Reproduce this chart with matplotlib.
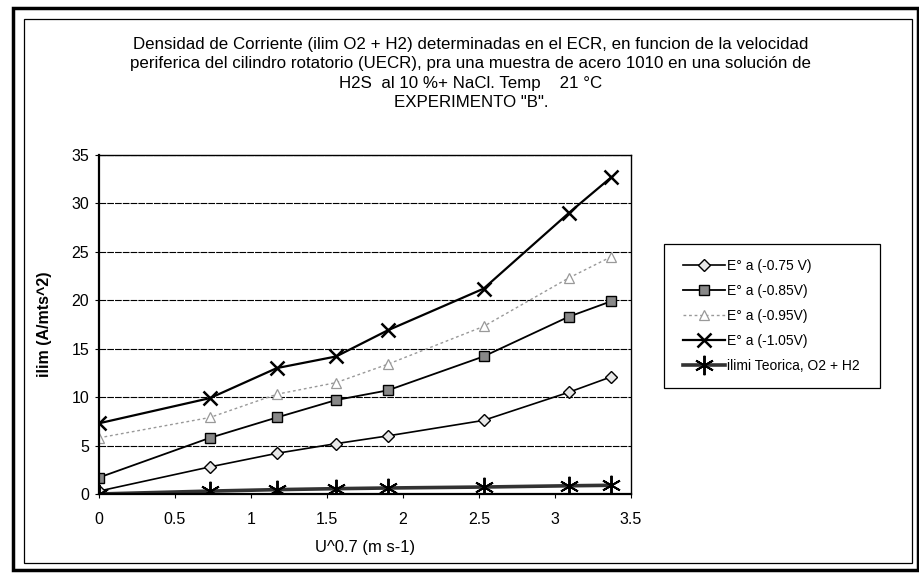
import matplotlib.pyplot as plt
from matplotlib.patches import Rectangle

plt.rcParams['font.family'] = ['Liberation Sans', 'DejaVu Sans']

# data
u07 = [0, 0.73, 1.17, 1.56, 1.9, 2.53, 3.09, 3.37]
e075 = [0.3, 2.8, 4.2, 5.2, 6.0, 7.6, 10.5, 12.1]
e085 = [1.7, 5.8, 7.9, 9.7, 10.7, 14.2, 18.3, 19.9]
e095 = [5.8, 7.9, 10.3, 11.5, 13.4, 17.3, 22.3, 24.5]
e105 = [7.3, 9.9, 13.0, 14.2, 16.9, 21.2, 29.0, 32.7]
teorica = [0.0, 0.3, 0.45, 0.55, 0.62, 0.72, 0.85, 0.9]

labels = ["E° a (-0.75 V)", "E° a (-0.85V)", "E° a (-0.95V)", "E° a (-1.05V)", "ilimi Teorica, O2 + H2"]
x_ticks = [0, 0.5, 1, 1.5, 2, 2.5, 3, 3.5]
y_ticks = [0, 5, 10, 15, 20, 25, 30, 35]

title = ("Densidad de Corriente (ilim O2 + H2) determinadas en el ECR, en funcion de la velocidad\n"
         "periferica del cilindro rotatorio (UECR), pra una muestra de acero 1010 en una solución de\n"
         "H2S  al 10 %+ NaCl. Temp    21 °C\n"
         "EXPERIMENTO \"B\".")

W, H = 920, 573
fig = plt.figure(figsize=(9.2, 5.73), dpi=100)
fig.patch.set_facecolor('white')

# double frame round the chart
fig.patches.append(Rectangle((13 / W, 3 / H), 905 / W, 562 / H, transform=fig.transFigure,
                             fill=False, edgecolor='black', linewidth=2.5))
fig.patches.append(Rectangle((24 / W, 10 / H), 888 / W, 544 / H, transform=fig.transFigure,
                             fill=False, edgecolor='black', linewidth=0.9))

fig.text(471 / W, 1 - 37 / H, title, ha='center', va='top', fontsize=12.2, linespacing=1.36)

ax = fig.add_axes([99 / W, 1 - 494 / H, 532 / W, 339 / H])

ax.plot(u07, e075, color='black', lw=1.2, marker='D', ms=6, mfc='#e8e8e8', mec='black', mew=1.0, label=labels[0])
ax.plot(u07, e085, color='black', lw=1.3, marker='s', ms=7, mfc='#888888', mec='black', mew=1.0, label=labels[1])
ax.plot(u07, e095, color='#999999', lw=1.0, ls=(0, (2, 2)), marker='^', ms=7, mfc='white', mec='#999999',
        mew=0.9, label=labels[2])
ax.plot(u07, e105, color='black', lw=1.6, marker='x', ms=10, mew=1.8, label=labels[3])
ax.plot(u07, teorica, color='#333333', lw=2.6, marker=(6, 2, 0), ms=14, mec='black', mew=1.4, label=labels[4])

ax.set_xlim(0, 3.5)
ax.set_ylim(0, 35)
ax.set_xticks(x_ticks)
ax.set_xticklabels([str(t) for t in x_ticks])
ax.set_yticks(y_ticks)
ax.tick_params(labelsize=11.5, length=3, width=0.8, direction='out')
ax.tick_params(axis='x', pad=10)
ax.tick_params(axis='y', pad=4)
ax.yaxis.grid(True, color='black', lw=0.8, ls=(0, (6, 1)))
ax.set_axisbelow(True)
for s in ax.spines.values():
    s.set_linewidth(1.0)
ax.spines['left'].set_linewidth(1.6)
ax.spines['bottom'].set_linewidth(1.6)

ax.set_xlabel("U^0.7 (m s-1)", fontsize=12, labelpad=9)
ax.set_ylabel("ilim (A/mts^2)", fontsize=11.5, fontweight='bold', labelpad=14)

# legend box drawn by hand, entries placed inside it
fig.patches.append(Rectangle((664 / W, 1 - 388 / H), 216 / W, 144 / H, transform=fig.transFigure,
                             fill=False, edgecolor='black', linewidth=0.9))
leg = fig.legend(loc='center left', bbox_to_anchor=(683 / W, 1 - 316 / H), fontsize=10,
                 frameon=False, handlelength=3.0, labelspacing=0.8, borderpad=0,
                 borderaxespad=0, handletextpad=0.2)

fig.savefig('out.png', dpi=100, facecolor='white')
